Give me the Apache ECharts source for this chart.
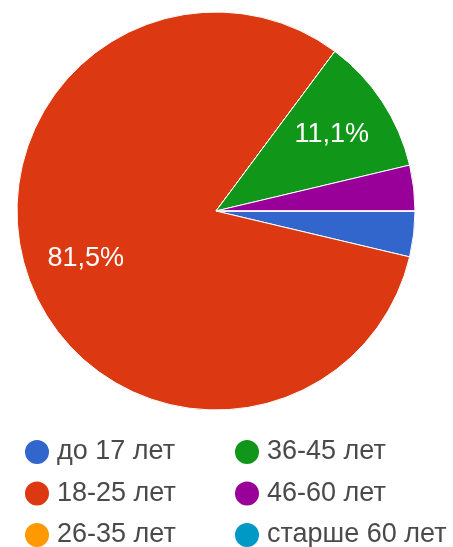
<!DOCTYPE html>
<html>
<head>
<meta charset="utf-8">
<script src="https://cdn.jsdelivr.net/npm/echarts@6/dist/echarts.min.js"></script>
<style>
  html, body { margin: 0; padding: 0; background: #fff; }
  #chart { width: 453px; height: 547px; }
</style>
</head>
<body>
<div id="chart"></div>
<script>
// возрастные группы и ответы
const categories = ['до 17 лет', '18-25 лет', '26-35 лет', '36-45 лет', '46-60 лет', 'старше 60 лет']
const counts = [1, 22, 0, 3, 1, 0]
const colors = ['#3366cc', '#dc3912', '#ff9900', '#109618', '#990099', '#0099c6']

const legendLeft = categories.slice(0, 3)
const legendRight = categories.slice(3)

const pieData = categories.map((name, i) => ({
  name,
  value: counts[i],
  itemStyle: { color: colors[i] }
}))

const chart = echarts.init(document.getElementById('chart'))

const legendBase = {
  orient: 'vertical',
  top: 438,
  height: 300,
  padding: 0,
  icon: 'circle',
  itemWidth: 26,
  itemHeight: 26,
  itemGap: 13.5,
  selectedMode: false,
  textStyle: {
    fontFamily: 'Liberation Sans, Arial, sans-serif',
    fontSize: 27,
    lineHeight: 26,
    color: '#4a4a4a',
    padding: [0, 0, 0, 2]
  }
}

const option = {
  animation: false,
  legend: [
    { ...legendBase, left: 23, width: 200, data: legendLeft },
    { ...legendBase, left: 233, width: 220, data: legendRight }
  ],
  series: [
    {
      type: 'pie',
      center: [216, 211],
      radius: [0, 199],
      startAngle: 0,
      clockwise: true,
      silent: true,
      label: { show: false },
      labelLine: { show: false },
      itemStyle: { borderColor: '#fff', borderWidth: 1 },
      data: pieData
    },
    {
      // прозрачный слой только для подписей процентов
      type: 'pie',
      center: [216, 211],
      radius: [72, 199],
      startAngle: 0,
      clockwise: true,
      silent: true,
      percentPrecision: 1,
      itemStyle: { color: 'rgba(0,0,0,0)' },
      label: {
        show: true,
        position: 'inside',
        color: '#fff',
        fontFamily: 'Liberation Sans, Arial, sans-serif',
        fontSize: 27,
        formatter: (p) => p.percent > 5 ? String(p.percent).replace('.', ',') + '%' : ''
      },
      labelLine: { show: false },
      data: categories.map((name, i) => ({ name, value: counts[i] }))
    }
  ]
}

chart.setOption(option)
</script>
</body>
</html>
